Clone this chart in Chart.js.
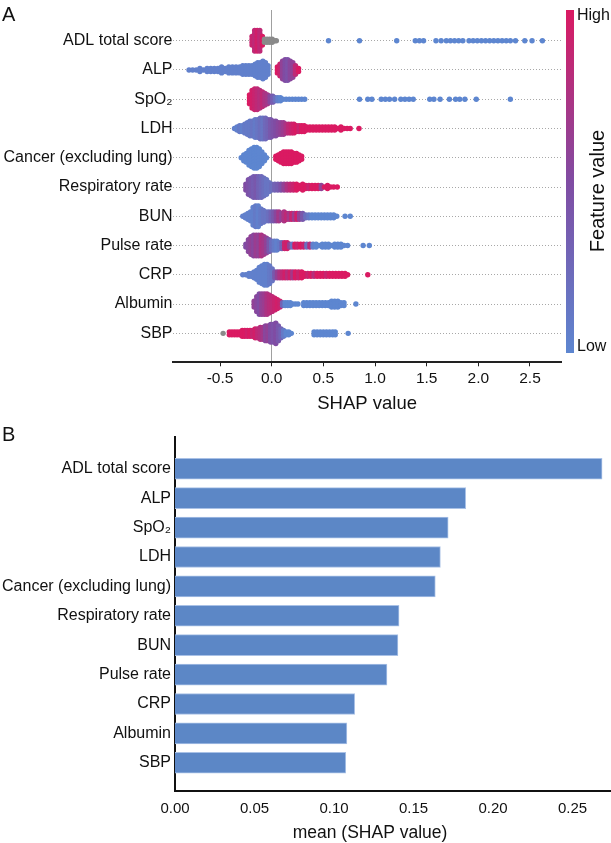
<!DOCTYPE html>
<html>
<head>
<meta charset="utf-8">
<script src="https://cdn.jsdelivr.net/npm/chart.js@4.4.1/dist/chart.umd.min.js"></script>
<style>
    body { margin: 0; background: #fff; }
    #wrapA { position: absolute; left: 0; top: 0; width: 611px; height: 420px; }
    #wrapB { position: absolute; left: 0; top: 412px; width: 611px; height: 431px; }
</style>
</head>
<body>
<div id="wrapA"><canvas id="shapSwarm" width="611" height="420"></canvas></div>
<div id="wrapB"><canvas id="shapBar" width="611" height="431"></canvas></div>
<script>
// Feature names, top to bottom
var features = ['ADL total score', 'ALP', 'SpO\u2082', 'LDH', 'Cancer (excluding lung)', 'Respiratory rate',
    'BUN', 'Pulse rate', 'CRP', 'Albumin', 'SBP'];

// Panel B: mean SHAP value per feature
var meanShap = [0.2686, 0.1828, 0.1718, 0.1669, 0.1637, 0.1409, 0.1402, 0.1333, 0.1130, 0.1081, 0.1074];

var shapTicks = [-0.5, 0, 0.5, 1, 1.5, 2, 2.5];
var meanTicks = [0, 0.05, 0.10, 0.15, 0.20, 0.25];

// Panel A swarm: [SHAP value, points stacked there, feature value 0 low .. 1 high, -1 = missing]
var adlBins = [[-0.19, 4, 0.9], [-0.165, 8, 0.85], [-0.14, 8, 0.95], [-0.115, 8, 0.85], [-0.09, 4, 1],
    [-0.07, 2, -1], [-0.045, 2, -1], [-0.02, 2, -1], [0.005, 2, -1], [0.03, 1, -1], [0.045, 1, -1],
    [0.55, 1, 0], [0.85, 1, 0], [1.21, 1, 0], [1.39, 1, 0], [1.43, 1, 0], [1.47, 1, 0], [1.59, 1, 0], [1.64, 1, 0],
    [1.69, 1, 0], [1.73, 1, 0], [1.77, 1, 0], [1.81, 1, 0], [1.85, 1, 0], [1.91, 1, 0], [1.95, 1, 0], [1.99, 1, 0],
    [2.03, 1, 0], [2.07, 1, 0], [2.11, 1, 0], [2.15, 1, 0], [2.19, 1, 0], [2.23, 1, 0], [2.27, 1, 0], [2.31, 1, 0],
    [2.36, 1, 0], [2.45, 1, 0], [2.52, 1, 0], [2.62, 1, 0]];

var alpBins = [[-0.80, 1, 0.05], [-0.765, 1, 0.05], [-0.73, 1, 0.05], [-0.695, 2, 0.05], [-0.66, 1, 0.05],
    [-0.625, 2, 0.05], [-0.59, 2, 0.05], [-0.555, 2, 0.05], [-0.52, 2, 0.05], [-0.485, 3, 0.05], [-0.45, 2, 0.05],
    [-0.415, 3, 0.05], [-0.38, 3, 0.05], [-0.345, 3, 0.05], [-0.31, 3, 0.05], [-0.28, 4, 0.05], [-0.25, 4, 0.05],
    [-0.22, 4, 0.05], [-0.19, 4, 0.05], [-0.16, 5, 0.05], [-0.135, 6, 0.05], [-0.11, 6, 0.05], [-0.085, 7, 0.05],
    [-0.06, 6, 0.05], [-0.035, 4, 0.05],
    [0.055, 3, 1], [0.08, 5, 0.9], [0.105, 7, 0.6], [0.13, 8, 0.5], [0.155, 8, 0.45], [0.18, 7, 0.55],
    [0.205, 6, 0.6], [0.23, 4, 0.85], [0.26, 2, 1]];

var spo2Bins = [[-0.215, 4, 1], [-0.19, 7, 0.95], [-0.165, 8, 0.9], [-0.14, 8, 0.85], [-0.115, 7, 0.8],
    [-0.09, 6, 0.85], [-0.065, 5, 0.75], [-0.04, 4, 0.7], [-0.015, 3, 0.55], [0.01, 3, 0.35], [0.035, 2, 0.2],
    [0.06, 2, 0.05], [0.085, 2, 0], [0.11, 1, 0], [0.14, 1, 0], [0.17, 1, 0], [0.20, 1, 0], [0.23, 1, 0],
    [0.26, 1, 0], [0.29, 1, 0], [0.32, 1, 0],
    [0.85, 1, 0], [0.93, 1, 0], [0.97, 1, 0], [1.06, 1, 0], [1.10, 1, 0], [1.14, 1, 0], [1.19, 1, 0], [1.25, 1, 0],
    [1.29, 1, 0], [1.33, 1, 0], [1.37, 1, 0], [1.53, 1, 0], [1.57, 1, 0], [1.63, 1, 0], [1.72, 1, 0], [1.78, 1, 0],
    [1.82, 1, 0], [1.87, 1, 0], [1.98, 1, 0], [2.31, 1, 0]];

var ldhBins = [[-0.36, 1, 0.05], [-0.335, 2, 0.05], [-0.31, 3, 0.1], [-0.285, 3, 0.05], [-0.26, 4, 0.1],
    [-0.235, 5, 0.1], [-0.21, 6, 0.1], [-0.185, 6, 0.15], [-0.16, 7, 0.1], [-0.135, 7, 0.15], [-0.11, 8, 0.2],
    [-0.085, 8, 0.15], [-0.06, 8, 0.25], [-0.035, 7, 0.3], [-0.01, 7, 0.4], [0.015, 6, 0.45], [0.04, 6, 0.5],
    [0.065, 5, 0.55], [0.09, 5, 0.6], [0.115, 5, 0.65], [0.14, 4, 0.75], [0.165, 4, 0.85], [0.19, 4, 0.9],
    [0.215, 4, 0.95], [0.24, 3, 1], [0.265, 3, 0.9], [0.29, 3, 1], [0.315, 3, 1], [0.34, 2, 1], [0.37, 2, 1],
    [0.40, 2, 1], [0.43, 2, 1], [0.46, 2, 1], [0.49, 2, 1], [0.52, 2, 1], [0.55, 2, 1], [0.58, 2, 1], [0.61, 2, 1],
    [0.64, 1, 1], [0.67, 2, 1], [0.70, 1, 1], [0.73, 1, 1], [0.76, 1, 1], [0.845, 1, 1]];

var cancerBins = [[-0.295, 1, 0], [-0.27, 3, 0], [-0.245, 4, 0], [-0.22, 6, 0], [-0.195, 7, 0], [-0.17, 8, 0],
    [-0.145, 8, 0], [-0.12, 7, 0], [-0.095, 5, 0], [-0.07, 3, 0], [-0.05, 1, 0],
    [0.04, 2, 1], [0.065, 3, 1], [0.09, 4, 1], [0.115, 5, 1], [0.14, 5, 1], [0.165, 5, 1], [0.19, 5, 1],
    [0.215, 4, 1], [0.24, 4, 1], [0.265, 3, 1], [0.29, 2, 1]];

var respBins = [[-0.25, 3, 0.5], [-0.225, 6, 0.45], [-0.2, 7, 0.4], [-0.175, 8, 0.35], [-0.15, 8, 0.4],
    [-0.125, 8, 0.3], [-0.10, 8, 0.25], [-0.075, 7, 0.2], [-0.05, 6, 0.15], [-0.025, 4, 0.15], [0.0, 3, 0.2],
    [0.03, 3, 0.3], [0.06, 3, 0.35], [0.09, 3, 0.45], [0.12, 3, 0.6], [0.15, 3, 0.75], [0.18, 3, 0.85],
    [0.21, 3, 0.9], [0.24, 3, 1], [0.27, 2, 1], [0.30, 3, 1], [0.33, 2, 1], [0.36, 2, 0.9], [0.39, 2, 1],
    [0.42, 2, 1], [0.45, 2, 1], [0.48, 2, 0.6], [0.51, 1, 1], [0.54, 2, 1], [0.57, 1, 1], [0.60, 1, 1], [0.635, 1, 1]];

var bunBins = [[-0.28, 1, 0.05], [-0.255, 2, 0.05], [-0.23, 3, 0.05], [-0.205, 4, 0.05], [-0.18, 7, 0.05],
    [-0.155, 8, 0.1], [-0.13, 8, 0.05], [-0.105, 6, 0.1], [-0.08, 5, 0.15], [-0.055, 4, 0.15], [-0.03, 4, 0.2],
    [-0.005, 4, 0.3], [0.02, 4, 0.4], [0.045, 4, 0.55], [0.07, 4, 0.7], [0.095, 3, 0.6], [0.12, 4, 0.75],
    [0.145, 3, 0.85], [0.17, 3, 0.7], [0.195, 3, 0.9], [0.22, 3, 0.65], [0.245, 3, 0.95], [0.27, 3, 0.6],
    [0.30, 3, 0.4], [0.33, 2, 0.2], [0.36, 2, 0.1], [0.39, 2, 0], [0.42, 2, 0], [0.45, 2, 0], [0.48, 2, 0],
    [0.51, 2, 0], [0.54, 2, 0], [0.57, 2, 0], [0.60, 2, 0], [0.63, 1, 0], [0.71, 1, 0], [0.76, 1, 0]];

var pulseBins = [[-0.25, 2, 0.5], [-0.225, 5, 0.55], [-0.2, 7, 0.6], [-0.175, 8, 0.55], [-0.15, 8, 0.65],
    [-0.125, 8, 0.6], [-0.10, 8, 0.75], [-0.075, 7, 0.7], [-0.05, 6, 0.6], [-0.025, 5, 0.4], [0.0, 4, 0.2],
    [0.025, 4, 0.1], [0.05, 4, 0.05], [0.075, 3, 0.1], [0.10, 3, 0.3], [0.125, 3, 0.9], [0.15, 3, 0.95],
    [0.175, 2, 0.6], [0.20, 2, 0.15], [0.225, 2, 1], [0.25, 2, 0.9], [0.28, 2, 1], [0.31, 2, 0.9], [0.34, 2, 0.2],
    [0.37, 2, 0.8], [0.40, 2, 0.05], [0.43, 2, 0], [0.46, 1, 0], [0.49, 2, 0], [0.52, 2, 0], [0.55, 2, 0],
    [0.58, 1, 0], [0.61, 2, 0], [0.64, 2, 0], [0.67, 2, 0], [0.70, 1, 0], [0.735, 1, 0], [0.885, 1, 0], [0.945, 1, 0]];

var crpBins = [[-0.28, 1, 0.05], [-0.25, 1, 0.05], [-0.22, 2, 0.05], [-0.195, 2, 0.05], [-0.17, 3, 0.05],
    [-0.145, 4, 0.05], [-0.12, 6, 0.05], [-0.095, 7, 0.05], [-0.07, 8, 0.05], [-0.045, 8, 0.05], [-0.02, 7, 0.1],
    [0.005, 5, 0.15], [0.03, 3, 0.4], [0.055, 3, 0.6], [0.08, 3, 0.75], [0.105, 3, 0.85], [0.13, 3, 0.95],
    [0.155, 3, 0.8], [0.18, 3, 0.95], [0.205, 3, 0.7], [0.23, 3, 1], [0.26, 3, 0.9], [0.29, 3, 1], [0.32, 2, 1],
    [0.35, 2, 0.9], [0.38, 2, 1], [0.41, 2, 0.8], [0.44, 2, 1], [0.47, 2, 1], [0.50, 2, 1], [0.53, 2, 0.9],
    [0.56, 2, 1], [0.59, 2, 1], [0.62, 2, 1], [0.65, 2, 1], [0.68, 2, 1], [0.71, 2, 1], [0.735, 1, 1], [0.93, 1, 1]];

var albuminBins = [[-0.17, 3, 0.6], [-0.145, 6, 0.55], [-0.12, 8, 0.5], [-0.095, 8, 0.6], [-0.07, 8, 0.65],
    [-0.045, 8, 0.75], [-0.02, 7, 0.8], [0.005, 6, 0.85], [0.03, 5, 0.9], [0.055, 4, 0.95], [0.08, 3, 0.9],
    [0.105, 2, 0.3], [0.13, 2, 0], [0.155, 2, 0], [0.18, 2, 0], [0.205, 1, 0], [0.23, 1, 0], [0.255, 1, 0],
    [0.31, 2, 0], [0.34, 2, 0], [0.37, 2, 0], [0.40, 2, 0], [0.43, 2, 0], [0.46, 2, 0], [0.49, 2, 0], [0.52, 2, 0],
    [0.55, 2, 0], [0.58, 3, 0], [0.61, 3, 0], [0.64, 3, 0], [0.67, 2, 0], [0.70, 2, 0], [0.815, 1, 0]];

var sbpBins = [[-0.47, 1, -1], [-0.41, 2, 1], [-0.385, 2, 1], [-0.36, 2, 1], [-0.335, 2, 1], [-0.31, 2, 1],
    [-0.285, 3, 1], [-0.26, 3, 1], [-0.235, 3, 0.95], [-0.21, 3, 1], [-0.185, 3, 0.9], [-0.16, 4, 0.95],
    [-0.135, 4, 0.85], [-0.11, 5, 0.8], [-0.085, 5, 0.7], [-0.06, 6, 0.55], [-0.035, 6, 0.6], [-0.01, 7, 0.5],
    [0.015, 7, 0.45], [0.04, 8, 0.5], [0.065, 6, 0.4], [0.09, 4, 0.3], [0.115, 3, 0.1], [0.14, 2, 0],
    [0.165, 2, 0], [0.19, 1, 0],
    [0.41, 2, 0], [0.44, 2, 0], [0.47, 2, 0], [0.50, 2, 0], [0.53, 2, 0], [0.56, 2, 0], [0.59, 2, 0],
    [0.615, 2, 0], [0.74, 1, 0]];

var swarmRows = [adlBins, alpBins, spo2Bins, ldhBins, cancerBins, respBins, bunBins, pulseBins, crpBins,
    albuminBins, sbpBins];

var FONT = '"Liberation Sans", Arial, sans-serif';
Chart.defaults.font.family = FONT;
Chart.defaults.color = '#111';

function FeatureColor(level) {
    if (level < 0) return '#8a8a8a';
    var low = [93, 134, 208], mid = [128, 76, 163], high = [218, 26, 98];
    var a = low, b = mid, t = level / 0.5;
    if (level > 0.5) {
        a = mid; b = high; t = (level - 0.5) / 0.5;
    }
    var r = Math.round(a[0] + (b[0] - a[0]) * t);
    var g = Math.round(a[1] + (b[1] - a[1]) * t);
    var bl = Math.round(a[2] + (b[2] - a[2]) * t);
    return 'rgb(' + r + ',' + g + ',' + bl + ')';
}

// stack the points of each bin around its row, as a beeswarm does
function BuildSwarm() {
    var points = [];
    var colors = [];
    swarmRows.forEach(function (bins, row) {
        bins.forEach(function (bin) {
            for (var k = 0; k < bin[1]; k++) {
                points.push({ x: bin[0], y: row + (k - (bin[1] - 1) / 2) * 0.1 });
                colors.push(FeatureColor(bin[2]));
            }
        });
    });
    return { points: points, colors: colors };
}

var panelA = {
    id: 'panelA',
    afterDraw: function (chart) {
        var ctx = chart.ctx;
        ctx.save();
        ctx.fillStyle = '#111';
        ctx.font = '20px ' + FONT;
        ctx.textAlign = 'left';
        ctx.textBaseline = 'alphabetic';
        ctx.fillText('A', 2, 21);

        // colour bar
        var top = chart.chartArea.top, bottom = 353;
        var grad = ctx.createLinearGradient(0, bottom, 0, top);
        for (var i = 0; i <= 10; i++) grad.addColorStop(i / 10, FeatureColor(i / 10));
        ctx.fillStyle = grad;
        ctx.fillRect(566, top, 8, bottom - top);

        ctx.fillStyle = '#111';
        ctx.font = '16px ' + FONT;
        ctx.textBaseline = 'middle';
        ctx.fillText('High', 577, 16);
        ctx.fillText('Low', 577, 347);

        ctx.translate(598, 191);
        ctx.rotate(-Math.PI / 2);
        ctx.textAlign = 'center';
        ctx.font = '20px ' + FONT;
        ctx.fillText('Feature value', 0, 0);
        ctx.restore();
    }
};

var panelB = {
    id: 'panelB',
    afterDraw: function (chart) {
        var ctx = chart.ctx;
        ctx.save();
        ctx.fillStyle = '#111';
        ctx.font = '20px ' + FONT;
        ctx.textBaseline = 'alphabetic';
        ctx.fillText('B', 2, 29);
        ctx.font = '17.5px ' + FONT;
        ctx.textAlign = 'center';
        ctx.textBaseline = 'middle';
        ctx.fillText('mean (SHAP value)', 370, 421);
        ctx.restore();
    }
};

var swarm = BuildSwarm();

new Chart(document.getElementById('shapSwarm'), {
    type: 'scatter',
    data: {
        datasets: [{
            data: swarm.points,
            backgroundColor: swarm.colors,
            pointRadius: 2.7,
            pointHoverRadius: 2.7,
            borderWidth: 0
        }]
    },
    options: {
        responsive: false,
        animation: false,
        layout: { padding: { top: 10, right: 49.3, left: 0, bottom: 0 } },
        plugins: { legend: { display: false }, tooltip: { enabled: false } },
        scales: {
            x: {
                type: 'linear', min: -0.96, max: 2.807,
                afterBuildTicks: function (s) { s.ticks = shapTicks.map(function (v) { return { value: v }; }); },
                afterFit: function (s) { s.height = 57.7; },
                ticks: {
                    callback: function (v) { return v.toFixed(1); },
                    font: { size: 15.5 }, padding: 3, maxRotation: 0, autoSkip: false
                },
                grid: {
                    color: function (c) { return c.tick && c.tick.value === 0 ? '#a0a0a0' : 'rgba(0,0,0,0)'; },
                    tickColor: '#222', tickLength: 4, lineWidth: 1
                },
                border: { color: '#222', width: 2 },
                title: { display: true, text: 'SHAP value', font: { size: 18.5 }, padding: { top: 0, bottom: 5 } }
            },
            y: {
                type: 'linear', reverse: true, min: -1.05, max: 10.99,
                afterBuildTicks: function (s) { s.ticks = features.map(function (f, i) { return { value: i }; }); },
                afterFit: function (s) { s.width = 172.5; },
                ticks: {
                    callback: function (v) { return features[v]; },
                    font: { size: 16 }, padding: 0, autoSkip: false
                },
                grid: { drawTicks: false, color: '#a8a8a8', lineWidth: 1 },
                border: { display: false, dash: [1, 2] }
            }
        }
    },
    plugins: [panelA]
});

new Chart(document.getElementById('shapBar'), {
    type: 'bar',
    data: {
        datasets: [{
            data: meanShap.map(function (v, i) { return { x: v, y: i }; }),
            backgroundColor: '#5c87c6',
            borderColor: '#a9c1e6',
            borderWidth: 1,
            barThickness: 21
        }]
    },
    options: {
        indexAxis: 'y',
        responsive: false,
        animation: false,
        layout: { padding: { top: 25, right: 0, left: 0, bottom: 0 } },
        plugins: { legend: { display: false }, tooltip: { enabled: false } },
        scales: {
            x: {
                type: 'linear', min: 0, max: 0.2742,
                afterBuildTicks: function (s) { s.ticks = meanTicks.map(function (v) { return { value: v }; }); },
                afterFit: function (s) { s.height = 52; },
                ticks: {
                    callback: function (v) { return v.toFixed(2); },
                    font: { size: 15 }, padding: 9, maxRotation: 0, autoSkip: false
                },
                grid: { display: false, drawTicks: false },
                border: { color: '#111', width: 2 }
            },
            y: {
                type: 'linear', reverse: true, min: -1.08, max: 10.96, offset: false,
                afterBuildTicks: function (s) { s.ticks = features.map(function (f, i) { return { value: i }; }); },
                afterFit: function (s) { s.width = 175; },
                ticks: {
                    callback: function (v) { return features[v]; },
                    font: { size: 16 }, padding: 4, autoSkip: false
                },
                grid: { display: false, drawTicks: false, offset: false },
                border: { color: '#111', width: 2 }
            }
        }
    },
    plugins: [panelB]
});
</script>
</body>
</html>
